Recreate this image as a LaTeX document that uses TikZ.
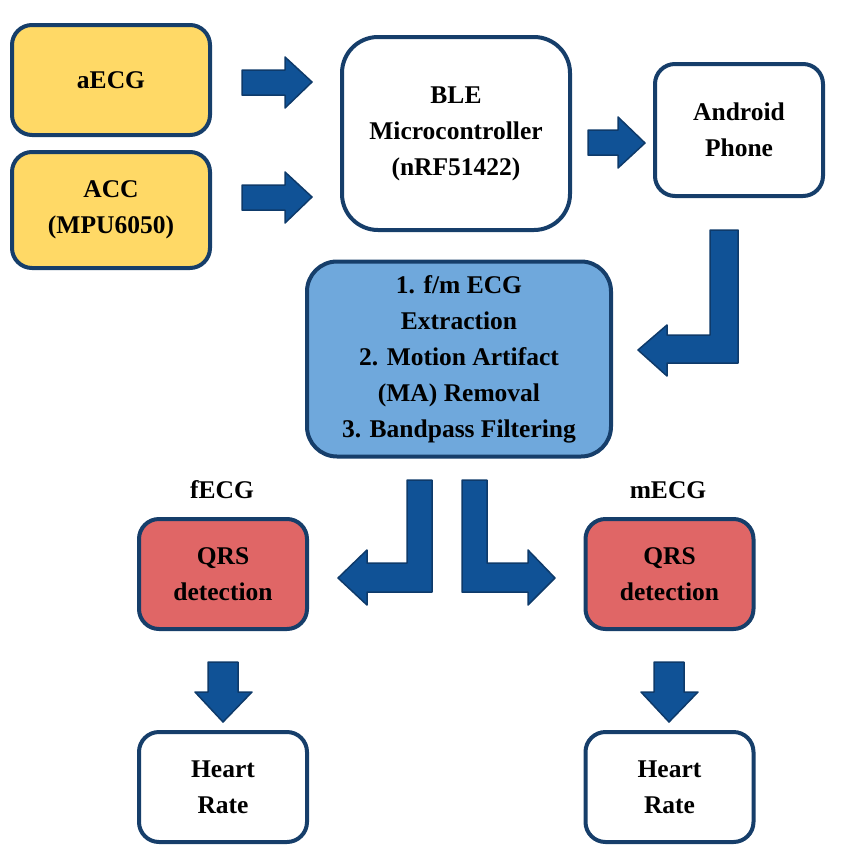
\documentclass[tikz,border=0pt]{standalone}
\usepackage{fontspec}
\setmainfont{Liberation Serif}
\usepackage{tikz}

\definecolor{boxline}{RGB}{22,62,106}
\definecolor{sensorfill}{RGB}{255,217,102}
\definecolor{procfill}{RGB}{111,168,220}
\definecolor{qrsfill}{RGB}{224,102,102}
\definecolor{arrowfill}{RGB}{16,82,150}
\definecolor{arrowline}{RGB}{14,58,106}

\begin{document}
\begin{tikzpicture}[x=1pt,y=-1pt,
  box/.style={draw=boxline,line width=4pt,rounded corners=20pt,align=center,
    font=\fontsize{25.5}{36}\selectfont\bfseries,inner sep=0pt},
  blockarrow/.style={fill=arrowfill,draw=arrowline,line width=1.5pt,line join=round}]

  \useasboundingbox (0,0) rectangle (846,863);

  \node[box,fill=sensorfill,minimum width=198,minimum height=110] (aecg) at (111,80) {aECG};
  \node[box,fill=sensorfill,minimum width=198,minimum height=116] (acc) at (111,210) {ACC\\(MPU6050)};
  \node[box,fill=white,minimum width=228,minimum height=193,rounded corners=36pt] (ble) at (456,133.5)
    {BLE\\Microcontroller\\(nRF51422)};
  \node[box,fill=white,minimum width=168,minimum height=132] (phone) at (739,130) {Android\\Phone};
  \node[box,fill=procfill,minimum width=304,minimum height=195,rounded corners=30pt] (proc) at (459,359)
    {1. f/m ECG\\Extraction\\2. Motion Artifact\\(MA) Removal\\3. Bandpass Filtering};

  \node[box,fill=qrsfill,minimum width=168,minimum height=110] (qrsf) at (223,574) {QRS\\detection};
  \node[box,fill=qrsfill,minimum width=168,minimum height=110] (qrsm) at (669.5,574) {QRS\\detection};
  \node[font=\fontsize{25.5}{36}\selectfont\bfseries] (fecg) at (222,490) {fECG};
  \node[font=\fontsize{25.5}{36}\selectfont\bfseries] (mecg) at (668,490) {mECG};

  \node[box,fill=white,minimum width=168,minimum height=110] (hrf) at (223,787) {Heart\\Rate};
  \node[box,fill=white,minimum width=168,minimum height=110] (hrm) at (669.5,787) {Heart\\Rate};

  \draw[blockarrow] (242,70) -- (285,70) -- (285,57) -- (312,82) -- (285,108) -- (285,95) -- (242,95) -- cycle;
  \draw[blockarrow] (242,185) -- (285,185) -- (285,172) -- (312,197) -- (285,223) -- (285,210) -- (242,210) -- cycle;
  \draw[blockarrow] (588,130) -- (618,130) -- (618,117) -- (645,143) -- (618,168) -- (618,155) -- (588,155) -- cycle;

  \draw[blockarrow] (710,230) -- (738,230) -- (738,363) -- (667,363) -- (667,376) -- (638,350)
    -- (667,325) -- (667,335) -- (710,335) -- cycle;
  \draw[blockarrow] (407,480) -- (432,480) -- (432,592) -- (367,592) -- (367,605) -- (338,578)
    -- (367,550) -- (367,563) -- (407,563) -- cycle;
  \draw[blockarrow] (487,480) -- (462,480) -- (462,592) -- (528,592) -- (528,605) -- (555,578)
    -- (528,550) -- (528,563) -- (487,563) -- cycle;

  \draw[blockarrow] (208,662) -- (238,662) -- (238,692) -- (252,692) -- (223,722) -- (195,692) -- (208,692) -- cycle;
  \draw[blockarrow] (654,662) -- (684,662) -- (684,692) -- (698,692) -- (669,722) -- (641,692) -- (654,692) -- cycle;

\end{tikzpicture}
\end{document}
